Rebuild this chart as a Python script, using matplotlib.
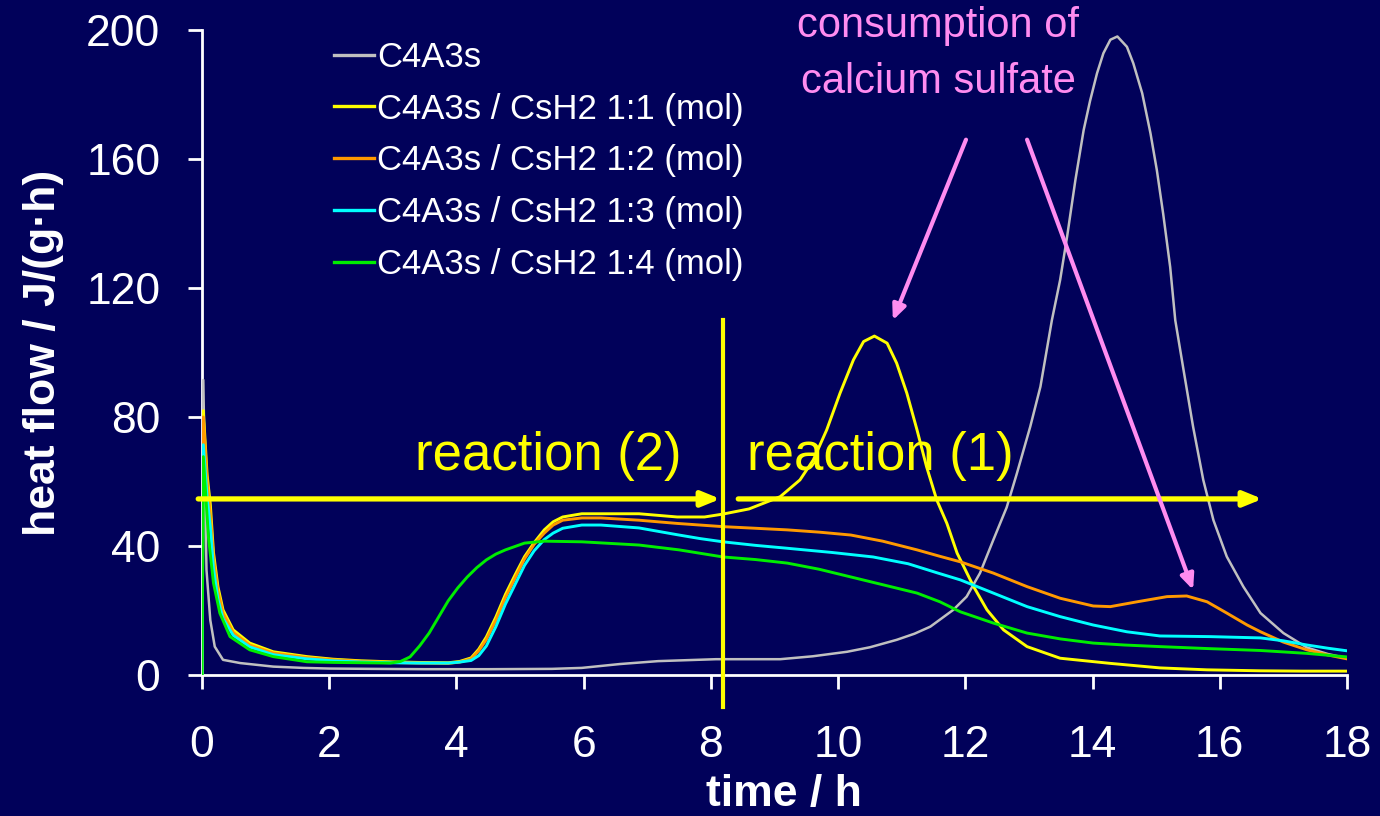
import matplotlib
matplotlib.use("Agg")
import matplotlib.pyplot as plt

BG = "#01015A"
plt.rcParams["font.family"] = ["Liberation Sans", "DejaVu Sans"]

# ── heat flow curves, J/(g·h) vs. time (h) ───────────────────────────────────
t_c4a3s = [0, 0.02, 0.07, 0.13, 0.2, 0.33, 0.6, 1.12, 1.59, 2.0, 2.66, 3.5, 4.5,
           5.5, 5.97, 6.57, 7.17, 8.08, 8.6, 9.09, 9.6, 10.14, 10.5, 10.92,
           11.2, 11.45, 11.81, 12.02, 12.23, 12.44, 12.65, 12.81, 13.02, 13.18,
           13.36, 13.49, 13.6, 13.73, 13.86, 13.96, 14.07, 14.17, 14.28, 14.39,
           14.54, 14.64, 14.78, 14.91, 15.01, 15.11, 15.22, 15.3, 15.43, 15.58,
           15.74, 15.9, 16.11, 16.37, 16.64, 17.0, 17.37, 17.7, 18.0]
hf_c4a3s = [0, 91.5, 32.6, 17, 8.8, 4.7, 3.7, 2.6, 2.2, 2.0, 1.9, 1.8, 1.8,
            1.9, 2.2, 3.4, 4.3, 4.9, 4.9, 4.9, 5.8, 7.2, 8.6, 10.9,
            12.8, 15, 20.2, 24.3, 31.6, 41.9, 52, 62.5, 77, 89.4,
            110, 122.5, 136, 153.5, 169, 178, 186.6, 192.8, 197, 198,
            194.8, 189.7, 180.4, 168, 156.6, 143, 126.5, 110, 94.6, 77,
            60.5, 48, 36.7, 27.4, 19.2, 13, 8.5, 6.5, 5.2]

t_11 = [0, 0.02, 0.08, 0.13, 0.18, 0.25, 0.33, 0.49, 0.75, 1.12, 1.65, 2.06,
        2.5, 2.96, 3.4, 3.87, 4.05, 4.23, 4.35, 4.47, 4.62, 4.77, 4.92, 5.07,
        5.22, 5.38, 5.52, 5.67, 5.97, 6.4, 6.87, 7.47, 7.9, 8.19, 8.6, 9.09,
        9.4, 9.61, 9.82, 10.03, 10.24, 10.4, 10.57, 10.77, 10.92, 11.08, 11.24,
        11.39, 11.55, 11.71, 11.87, 12.13, 12.34, 12.6, 12.97, 13.49, 14.28,
        15.06, 15.8, 16.64, 17.3, 18.0]
hf_11 = [0, 82, 62, 53, 38, 27.4, 20.2, 14, 9.9, 7.2, 5.7, 4.9,
         4.4, 4.1, 3.9, 3.8, 4.2, 5.3, 8, 11.8, 18, 25, 31, 36.7,
         41, 45, 47.5, 49, 50, 50, 50, 49, 49, 49.9, 51.5, 55.3,
         60.5, 66.7, 76, 87.4, 97.7, 103.4, 105.1, 102.9, 96.7, 87.4, 76,
         64.6, 54.3, 47, 37.8, 27.4, 20.2, 14, 8.8, 5.2, 3.6,
         2.2, 1.6, 1.3, 1.2, 1.2]

t_12 = [0, 0.02, 0.08, 0.13, 0.18, 0.25, 0.33, 0.49, 0.75, 1.12, 1.65, 2.06,
        2.5, 2.96, 3.4, 3.87, 4.05, 4.23, 4.35, 4.47, 4.62, 4.77, 4.92, 5.07,
        5.22, 5.38, 5.52, 5.67, 5.97, 6.27, 6.87, 7.47, 7.83, 8.19, 8.7, 9.2,
        9.7, 10.2, 10.7, 11.24, 11.6, 11.92, 12.44, 12.97, 13.49, 14.01, 14.28,
        14.7, 15.17, 15.48, 15.8, 16.11, 16.43, 16.64, 17.0, 17.37, 17.7, 18.0]
hf_12 = [0, 80, 60, 50, 36, 26, 19.2, 13.2, 9.3, 6.8, 5.4, 4.7,
         4.2, 3.9, 3.7, 3.6, 4.0, 5.0, 7.5, 11, 17, 24, 30, 36,
         40.5, 44, 46.5, 48, 48.7, 48.7, 48, 47, 46.5, 46, 45.5, 45,
         44.3, 43.4, 41.5, 38.8, 36.8, 35.1, 31.6, 27.4, 23.8, 21.4, 21.2,
         22.7, 24.3, 24.5, 22.7, 19.2, 15.5, 13.4, 10.2, 7.8, 6.2, 5]

t_13 = [0, 0.02, 0.08, 0.13, 0.18, 0.25, 0.33, 0.49, 0.75, 1.12, 1.65, 2.06,
        2.5, 2.96, 3.4, 3.87, 4.05, 4.23, 4.35, 4.47, 4.62, 4.77, 4.92, 5.07,
        5.22, 5.38, 5.52, 5.67, 5.97, 6.27, 6.87, 7.47, 7.83, 8.19, 8.7, 9.2,
        9.9, 10.55, 11.1, 11.57, 11.92, 12.44, 12.97, 13.49, 14.01, 14.54,
        15.06, 15.85, 16.64, 17.0, 17.37, 17.7, 18.0]
hf_13 = [0, 71.4, 55, 46, 33, 23.5, 17.5, 12.3, 8.7, 6.3, 5.0, 4.4,
         4.0, 3.8, 3.7, 3.7, 4, 4.5, 6, 9, 15, 22, 28, 34,
         38.5, 42, 44, 45.5, 46.5, 46.5, 45.6, 43.5, 42.3, 41.3, 40.2, 39.3,
         38, 36.6, 34.5, 31.6, 29.5, 25.4, 21.2, 18.1, 15.5, 13.4,
         12.1, 11.9, 11.5, 10.6, 9.3, 8.3, 7.5]

t_14 = [0, 0.02, 0.1, 0.18, 0.28, 0.44, 0.75, 1.12, 1.65, 2.06, 2.5, 2.96,
        3.12, 3.27, 3.42, 3.57, 3.72, 3.87, 4.02, 4.17, 4.32, 4.47, 4.62, 4.77,
        5.07, 5.38, 5.97, 6.87, 7.5, 8.19, 8.7, 9.2, 9.7, 10.2, 10.7, 11.24,
        11.6, 11.92, 12.44, 12.97, 13.49, 14.01, 14.5, 15.06, 15.8, 16.64,
        17.37, 18.0]
hf_14 = [0, 67.7, 42.9, 28.5, 19.2, 11.9, 7.8, 5.7, 4.1, 3.9, 3.8, 3.7,
         4.2, 5.6, 9, 13, 18, 23, 27, 30.4, 33.3, 35.7, 37.5, 38.8,
         40.9, 41.5, 41.3, 40.3, 38.8, 36.6, 35.8, 34.7, 32.8, 30.4, 28, 25.4,
         22.7, 19.6, 16.1, 13, 11.2, 9.9, 9.3, 8.8, 8.2, 7.6,
         6.7, 5.6]

labels = ["C4A3s",
          "C4A3s / CsH2 1:1 (mol)",
          "C4A3s / CsH2 1:2 (mol)",
          "C4A3s / CsH2 1:3 (mol)",
          "C4A3s / CsH2 1:4 (mol)"]
colors = ["#C0C0C0", "#FFFF00", "#FF9900", "#00FFFF", "#00EE00"]

series = [(t_c4a3s, hf_c4a3s), (t_11, hf_11), (t_12, hf_12),
          (t_13, hf_13), (t_14, hf_14)]

fig = plt.figure(figsize=(13.8, 8.16), dpi=100, facecolor=BG)
ax = fig.add_axes([0.1464, 0.1728, 0.8297, 0.7904], facecolor=BG)

for (t, hf), lab, col in zip(series, labels, colors):
    lw = 1.8 if col == "#C0C0C0" else 2.1
    ax.plot(t, hf, color=col, lw=lw, label=lab, zorder=3,
            solid_joinstyle="round")

ax.set_xlim(0, 18)
ax.set_ylim(0, 200)
ax.set_xticks(range(0, 19, 2))
ax.set_yticks(range(0, 201, 40))
for side in ("top", "right"):
    ax.spines[side].set_visible(False)
for side in ("left", "bottom"):
    ax.spines[side].set_color("white")
    ax.spines[side].set_linewidth(2)
ax.tick_params(colors="white", labelsize=32, length=10, width=2)
ax.tick_params(axis="y", pad=20)
ax.tick_params(axis="x", pad=26)

ax.set_xlabel("time / h", color="white", fontsize=32, fontweight="bold",
              labelpad=6)
ax.xaxis.label.set_x(0.508)
ax.set_ylabel("heat flow / J/(g·h)", color="white", fontsize=32,
              fontweight="bold", labelpad=16)

leg = ax.legend(loc="upper left", bbox_to_anchor=(0.232, 0.967),
                bbox_transform=fig.transFigure, frameon=False, fontsize=25,
                handlelength=1.15, handletextpad=0.1, labelspacing=0.54,
                borderaxespad=0)
for txt in leg.get_texts():
    txt.set_color("white")
for ln in leg.get_lines():
    ln.set_linewidth(2.4)

# ── reaction markers ─────────────────────────────────────────────────────────
YEL = "#FFFF00"
PINK = "#FF8CF0"
ax.plot([8.19, 8.19], [-10, 110], color=YEL, lw=3, clip_on=False, zorder=4)

arrow_kw = dict(arrowstyle="-|>,head_length=1.1,head_width=0.45",
                color=YEL, lw=3.8, shrinkA=0, shrinkB=0)
ax.annotate("", xy=(8.15, 54.6), xytext=(-0.06, 54.6),
            arrowprops=arrow_kw, annotation_clip=False, zorder=5)
ax.annotate("", xy=(16.67, 54.6), xytext=(8.43, 54.6),
            arrowprops=arrow_kw, annotation_clip=False, zorder=5)

ax.text(5.44, 68, "reaction (2)", color=YEL, fontsize=38,
        ha="center", va="center", zorder=4)
ax.text(10.66, 68, "reaction (1)", color=YEL, fontsize=38,
        ha="center", va="center", zorder=2)

ax.text(11.57, 192.5, "consumption of\ncalcium sulfate", color=PINK,
        fontsize=30, ha="center", va="center", linespacing=1.5,
        clip_on=False)
pink_kw = dict(arrowstyle="-|>,head_length=0.9,head_width=0.4",
               color=PINK, lw=3, shrinkA=0, shrinkB=0)
ax.annotate("", xy=(10.86, 110), xytext=(12.01, 166),
            arrowprops=pink_kw, zorder=5)
ax.annotate("", xy=(15.58, 26.4), xytext=(12.97, 166),
            arrowprops=pink_kw, zorder=5)

fig.savefig("out.png", dpi=100, facecolor=BG)
